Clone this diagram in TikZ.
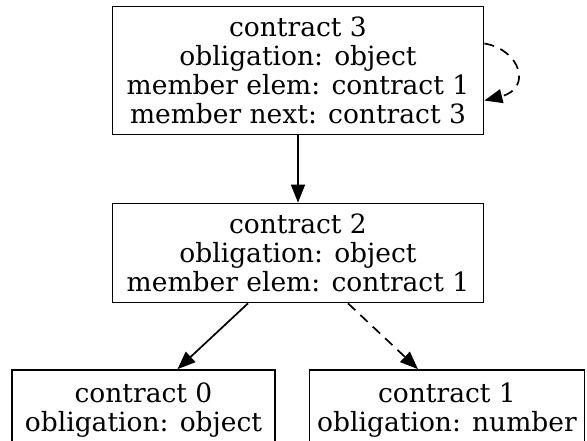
\documentclass[tikz,border=0pt]{standalone}
\usepackage{fontspec}
\setmainfont{DejaVu Serif}
\usetikzlibrary{arrows.meta}
\begin{document}
\begin{tikzpicture}[x=1pt,y=-1pt,
  box/.style={draw,line width=1.7pt,rectangle,align=center,inner sep=0pt,
    font=\fontsize{26.5}{29}\selectfont},
  edge/.style={line width=1.7pt,-{Triangle[length=18pt,width=14pt]}},
  dedge/.style={edge,dash pattern=on 10pt off 7pt}]
\useasboundingbox (0,0) rectangle (587,440);
\node[box,minimum width=371pt,minimum height=128pt] (c3) at (298,70.5)
  {contract 3\\obligation: object\\member elem: contract 1\\member next: contract 3};
\node[box,minimum width=371pt,minimum height=99pt] (c2) at (298,253)
  {contract 2\\obligation: object\\member elem: contract 1};
\node[box,minimum width=263pt,minimum height=80pt] (c0) at (143.5,410)
  {contract 0\\obligation: object};
\node[box,minimum width=275pt,minimum height=80pt] (c1) at (447,410)
  {contract 1\\obligation: number};
\draw[edge] (c3) -- (c2);
\draw[edge] ([xshift=-50pt]c2.south) -- ([xshift=34pt]c0.north);
\draw[dedge] ([xshift=50pt]c2.south) -- ([xshift=-29pt]c1.north);
\coordinate (ls) at ([yshift=27pt]c3.east);
\coordinate (le) at ([yshift=-30pt]c3.east);
\draw[dedge] (ls) .. controls +(36,6) and +(48,-12) .. (le);
\end{tikzpicture}
\end{document}
